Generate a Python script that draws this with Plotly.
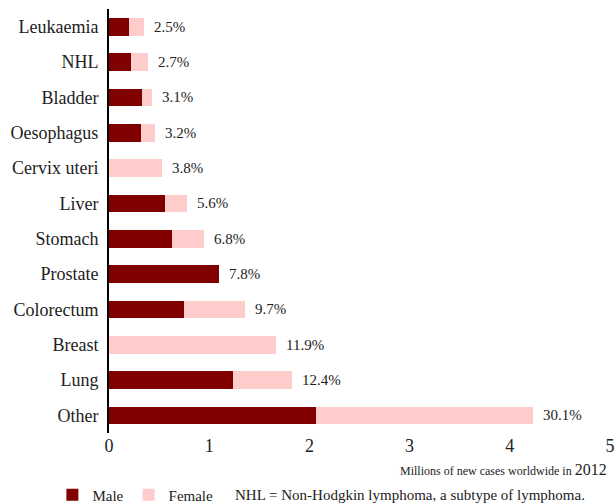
import plotly.graph_objects as go

categories = ["Leukaemia", "NHL", "Bladder", "Oesophagus", "Cervix uteri", "Liver",
              "Stomach", "Prostate", "Colorectum", "Breast", "Lung", "Other"]
male = [0.201, 0.218, 0.330, 0.323, 0.0, 0.554, 0.631, 1.095, 0.746, 0.0, 1.242, 2.07]
female = [0.151, 0.168, 0.100, 0.133, 0.528, 0.228, 0.320, 0.0, 0.614, 1.671, 0.583, 2.16]
shares = ["2.5%", "2.7%", "3.1%", "3.2%", "3.8%", "5.6%", "6.8%", "7.8%", "9.7%",
          "11.9%", "12.4%", "30.1%"]
x_ticks = [0, 1, 2, 3, 4, 5]

FONT = "Liberation Serif"

fig = go.Figure()
fig.add_trace(go.Bar(y=categories, x=male, orientation="h", name="Male",
                     marker=dict(color="#800000", line=dict(width=0)), width=0.5))
fig.add_trace(go.Bar(y=categories, x=female, orientation="h", name="Female",
                     marker=dict(color="#ffcccc", line=dict(width=0)), width=0.5))

totals = [m + f for m, f in zip(male, female)]
for c, t, s in zip(categories, totals, shares):
    fig.add_annotation(x=t, y=c, xref="x", yref="y", text=s, showarrow=False,
                       xanchor="left", yanchor="middle", xshift=8,
                       font=dict(family=FONT, size=15, color="#222"))

fig.add_annotation(x=1, y=-0.087, xref="paper", yref="paper",
                   text="Millions of new cases worldwide in <span style='font-size:16px'>2012</span>",
                   showarrow=False, xanchor="right", yanchor="middle", xshift=-1,
                   font=dict(family=FONT, size=12, color="#222"))
fig.add_annotation(x=(233 - 109) / 501, y=-0.146, xref="paper", yref="paper",
                   text="NHL = Non-Hodgkin lymphoma, a subtype of lymphoma.",
                   showarrow=False, xanchor="left", yanchor="middle",
                   font=dict(family=FONT, size=15, color="#222"))

fig.update_layout(
    width=615, height=503,
    margin=dict(l=109, r=5, t=9, b=70, autoexpand=False),
    barmode="stack",
    plot_bgcolor="white", paper_bgcolor="white",
    font=dict(family=FONT, size=18, color="#222"),
    showlegend=True,
    legend=dict(orientation="h", x=-0.113, xanchor="left", y=-0.146, yanchor="middle",
                font=dict(family=FONT, size=15, color="#222"),
                traceorder="normal"),
    xaxis=dict(range=[0, 5], tickvals=x_ticks, showgrid=False, zeroline=False,
               showline=False, ticks="", ticklabelstandoff=0,
               ticklabeloverflow="allow",
               tickfont=dict(family=FONT, size=18, color="#222")),
    yaxis=dict(categoryorder="array", categoryarray=categories, autorange="reversed",
               showgrid=False, zeroline=False, showline=True, linecolor="black",
               linewidth=2, ticks="", ticklabelstandoff=5,
               tickfont=dict(family=FONT, size=18, color="#222")),
)

fig.write_html(
    "out.html",
    config={"displayModeBar": False},
    post_script="document.body.style.margin='0';document.body.style.overflow='hidden';",
)
